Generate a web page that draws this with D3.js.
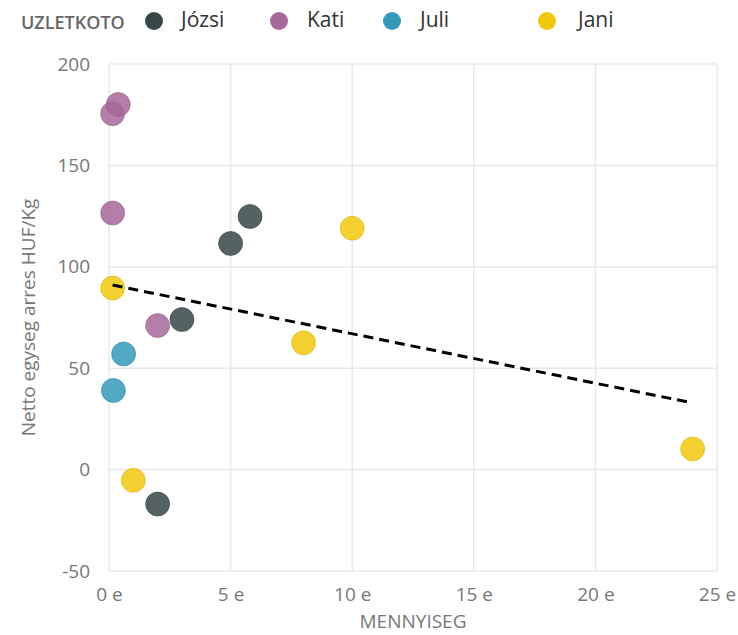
<!DOCTYPE html>
<html>
<head>
<meta charset="utf-8">
<script src="https://cdn.jsdelivr.net/npm/d3@7"></script>
<style>
  body { margin: 0; background: #fff; }
  text { font-family: "Segoe UI", "Open Sans", sans-serif; }
</style>
</head>
<body>
<svg id="chart" width="738" height="635"></svg>
<script>
const sellers = ["Józsi", "Kati", "Juli", "Jani"];
const sellerColors = ["#374649", "#A66999", "#3599B8", "#F2C80F"];
const pointSeller = ["Kati", "Kati", "Kati", "Kati",
                     "Józsi", "Józsi", "Józsi", "Józsi",
                     "Jani", "Jani", "Jani", "Jani", "Jani",
                     "Juli", "Juli"];
const quantity = [0.15, 0.38, 0.15, 2.0,
                  5.8, 5.0, 3.0, 2.0,
                  0.15, 10.0, 8.0, 1.0, 24.0,
                  0.6, 0.18];
const unitMargin = [175.5, 180, 126.5, 71,
                    124.8, 111.5, 74, -17,
                    89.5, 119, 62.5, -5.3, 10.2,
                    57, 39];
const xTicks = [0, 5, 10, 15, 20, 25];
const yTicks = [-50, 0, 50, 100, 150, 200];
const legendTitle = "UZLETKOTO";
const xTitle = "MENNYISEG";
const yTitle = "Netto egyseg arres HUF/Kg";

const plot = { left: 109, right: 717, top: 64, bottom: 571 };
const legendSlots = [{ dot: 154, label: 181 }, { dot: 279, label: 307 },
                     { dot: 392, label: 420 }, { dot: 547, label: 578 }];
const pointRadius = 12;
const labelFont = '"Segoe UI", "Open Sans", sans-serif';

let svg = d3.select("#chart");
let x = d3.scaleLinear().domain([0, 25]).range([plot.left, plot.right]);
let y = d3.scaleLinear().domain([-50, 200]).range([plot.bottom, plot.top]);
let color = d3.scaleOrdinal().domain(sellers).range(sellerColors);

let points = quantity.map((q, i) => ({ q: q, m: unitMargin[i], seller: pointSeller[i] }));

// grid
let grid = svg.append("g");
grid.selectAll(".vgrid")
    .data(xTicks)
    .join("line")
    .attr("x1", d => x(d)).attr("x2", d => x(d))
    .attr("y1", plot.top).attr("y2", plot.bottom)
    .attr("stroke", "#e8e8e8").attr("stroke-width", 1.5);
grid.selectAll(".hgrid")
    .data(yTicks)
    .join("line")
    .attr("y1", d => y(d)).attr("y2", d => y(d))
    .attr("x1", plot.left).attr("x2", plot.right)
    .attr("stroke", "#e8e8e8").attr("stroke-width", 1.5);

// axes (labels only, like Power BI)
let xAxis = svg.append("g")
    .attr("transform", `translate(0,${plot.bottom + 10})`)
    .call(d3.axisBottom(x).tickValues(xTicks).tickSize(0).tickPadding(0).tickFormat(d => d + " e"));
xAxis.select(".domain").remove();
xAxis.selectAll("text")
    .attr("dy", "1.05em")
    .attr("fill", "#777").attr("font-size", "19px")
    .style("font-family", labelFont);

let yAxis = svg.append("g")
    .attr("transform", `translate(${plot.left - 19},0)`)
    .call(d3.axisLeft(y).tickValues(yTicks).tickSize(0).tickPadding(0).tickFormat(d => String(d)));
yAxis.select(".domain").remove();
yAxis.selectAll("text")
    .attr("fill", "#777").attr("font-size", "19px")
    .style("font-family", labelFont);

svg.append("text")
    .attr("x", (plot.left + plot.right) / 2)
    .attr("y", 628)
    .attr("text-anchor", "middle")
    .attr("fill", "#777").attr("font-size", "19px")
    .text(xTitle);

svg.append("text")
    .attr("transform", `translate(35,${(plot.top + plot.bottom) / 2}) rotate(-90)`)
    .attr("text-anchor", "middle")
    .attr("fill", "#777").attr("font-size", "19px")
    .text(yTitle);

// trend line (least squares over all points)
let mx = d3.mean(quantity), my = d3.mean(unitMargin);
let sxy = d3.sum(quantity, (q, i) => (q - mx) * (unitMargin[i] - my));
let sxx = d3.sum(quantity, q => (q - mx) * (q - mx));
let slope = sxy / sxx, intercept = my - slope * mx;
let trendX = d3.extent(quantity);

// points
svg.append("g")
    .selectAll("circle")
    .data(points)
    .join("circle")
    .attr("cx", d => x(d.q))
    .attr("cy", d => y(d.m))
    .attr("r", pointRadius)
    .attr("fill", d => color(d.seller))
    .attr("fill-opacity", 0.85)
    .attr("stroke", d => d3.color(color(d.seller)).darker(0.3))
    .attr("stroke-opacity", 0.6)
    .attr("stroke-width", 1);

svg.append("line")
    .attr("x1", x(trendX[0])).attr("y1", y(intercept + slope * trendX[0]))
    .attr("x2", x(trendX[1])).attr("y2", y(intercept + slope * trendX[1]))
    .attr("stroke", "#000").attr("stroke-width", 3)
    .attr("stroke-dasharray", "10,6");

// legend
let legend = svg.append("g");
legend.append("text")
    .attr("x", 21).attr("y", 29)
    .attr("fill", "#666").attr("font-size", "18px").attr("font-weight", 600)
    .text(legendTitle);
let items = legend.selectAll(".item")
    .data(sellers)
    .join("g")
    .attr("class", "item");
items.append("circle")
    .attr("cx", (d, i) => legendSlots[i].dot)
    .attr("cy", 21)
    .attr("r", 9)
    .attr("fill", d => color(d));
items.append("text")
    .attr("x", (d, i) => legendSlots[i].label)
    .attr("y", 27)
    .attr("fill", "#333").attr("font-size", "21px")
    .text(d => d);
</script>
</body>
</html>
